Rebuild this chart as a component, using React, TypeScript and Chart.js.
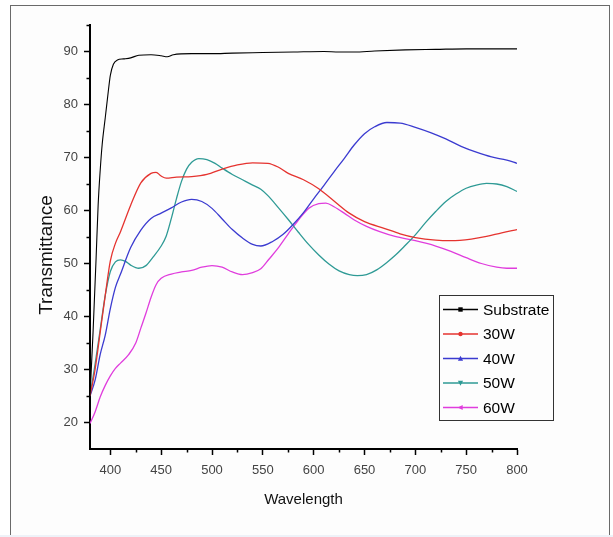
import React, { useEffect, useRef } from 'react';
import { Chart, registerables } from 'chart.js';

Chart.register(...registerables);

const FONT = "'Liberation Sans', Arial, Helvetica, sans-serif";

// Axis ticks
const xTickValues = [400, 450, 500, 550, 600, 650, 700, 750, 800];
const xMinorTicks = [425, 475, 525, 575, 625, 675, 725, 775];
const yTickValues = [20, 30, 40, 50, 60, 70, 80, 90];
const yMinorTicks = [25, 35, 45, 55, 65, 75, 85, 95];

// Series labels / colours
const seriesLabels = ['Substrate', '30W', '40W', '50W', '60W'];
const seriesColors = ['#000000', '#e5332f', '#3b3bd0', '#2e9a95', '#e03ddd'];

// Substrate
const substrateWl = [380, 383, 386, 388, 390, 392, 395, 398, 400, 403, 407, 413, 420, 428, 440, 450, 456, 462, 480, 500, 520, 550, 580, 610, 625, 640, 660, 690, 720, 750, 780, 800];
const substrateT = [25, 37, 51, 61, 67.5, 72.5, 77.5, 82.5, 85.5, 87.6, 88.4, 88.6, 88.8, 89.3, 89.4, 89.2, 89.0, 89.4, 89.6, 89.6, 89.7, 89.8, 89.9, 90.0, 89.9, 89.9, 90.1, 90.3, 90.4, 90.5, 90.5, 90.5];

// 30W
const w30Wl = [380, 385, 390, 395, 400, 405, 410, 420, 430, 440, 445, 450, 455, 465, 480, 495, 510, 525, 540, 555, 565, 575, 590, 605, 620, 635, 650, 670, 685, 700, 720, 735, 755, 770, 785, 800];
const w30T = [25, 30, 37, 44, 50.5, 53.8, 56, 61, 65.2, 67, 67.2, 66.5, 66.1, 66.3, 66.4, 66.8, 67.8, 68.6, 69, 68.9, 68.2, 67, 65.8, 64.1, 61.8, 59.5, 57.9, 56.6, 55.6, 54.9, 54.4, 54.3, 54.6, 55.1, 55.8, 56.4];

// 40W
const w40Wl = [380, 385, 390, 395, 400, 405, 410, 420, 430, 440, 450, 460, 470, 480, 490, 500, 510, 520, 530, 540, 548, 560, 570, 580, 590, 600, 610, 620, 630, 640, 650, 660, 672, 685, 700, 715, 730, 745, 760, 775, 790, 800];
const w40T = [25, 28, 32.8, 36.5, 41.5, 45.5, 48, 53, 56.3, 58.5, 59.5, 60.5, 61.6, 62.1, 61.7, 60.4, 58.4, 56.4, 54.8, 53.6, 53.3, 54.2, 55.5, 57.4, 59.6, 62.2, 64.7, 67.3, 69.8, 72.4, 74.5, 75.8, 76.6, 76.5, 75.7, 74.7, 73.5, 72.1, 71, 70.1, 69.5, 68.9];

// 50W
const w50Wl = [380, 385, 390, 395, 400, 405, 410, 415, 420, 428, 435, 442, 450, 455, 460, 465, 470, 475, 480, 487, 495, 503, 510, 520, 530, 540, 548, 555, 565, 575, 585, 595, 605, 615, 625, 635, 643, 652, 662, 672, 680, 690, 700, 710, 720, 730, 740, 750, 760, 770, 780, 790, 800];
const w50T = [25, 31, 37.5, 44, 48.5, 50.3, 50.7, 50.4, 49.7, 49.1, 49.6, 51.2, 53.3, 55.2, 58.5, 62.2, 65.5, 67.8, 69.1, 69.8, 69.6, 68.9, 68, 66.8, 65.8, 64.8, 64, 62.8, 60.6, 58.3, 55.9, 53.6, 51.6, 49.9, 48.6, 47.9, 47.7, 47.9, 48.8, 50.2, 51.5, 53.4, 55.4, 57.7, 59.8, 61.7, 63.1, 64.2, 64.8, 65.1, 65, 64.5, 63.6];

// 60W
const w60Wl = [380, 385, 390, 395, 400, 405, 410, 418, 425, 430, 435, 440, 445, 450, 460, 470, 480, 490, 500, 510, 520, 530, 540, 548, 556, 565, 575, 585, 595, 605, 612, 620, 630, 640, 652, 665, 680, 700, 720, 735, 750, 765, 780, 790, 800];
const w60T = [19.8, 22, 24.8, 27, 28.8, 30.2, 31.2, 32.8, 35, 37.8, 40.6, 43.6, 46, 47.2, 48, 48.4, 48.7, 49.3, 49.6, 49.3, 48.4, 47.9, 48.3, 49, 50.8, 52.9, 55.6, 58.2, 60.4, 61.3, 61.4, 60.7, 59.5, 58.2, 57, 56, 55.1, 54.3, 53.3, 52.3, 51.1, 50, 49.3, 49.1, 49.1];

const seriesWl = [substrateWl, w30Wl, w40Wl, w50Wl, w60Wl];
const seriesT = [substrateT, w30T, w40T, w50T, w60T];
const markerShapes = ['square', 'circle', 'triUp', 'triDown', 'triLeft'];

function drawMarker(ctx: CanvasRenderingContext2D, shape: string, x: number, y: number, color: string) {
  ctx.save();
  ctx.fillStyle = color;
  ctx.beginPath();
  const s = 2.2;
  if (shape === 'square') {
    ctx.rect(x - s, y - s, 2 * s, 2 * s);
  } else if (shape === 'circle') {
    ctx.arc(x, y, s, 0, Math.PI * 2);
  } else if (shape === 'triUp') {
    ctx.moveTo(x, y - s - 0.6);
    ctx.lineTo(x + s + 0.4, y + s);
    ctx.lineTo(x - s - 0.4, y + s);
  } else if (shape === 'triDown') {
    ctx.moveTo(x, y + s + 0.6);
    ctx.lineTo(x + s + 0.4, y - s);
    ctx.lineTo(x - s - 0.4, y - s);
  } else {
    ctx.moveTo(x - s - 0.6, y);
    ctx.lineTo(x + s, y - s - 0.4);
    ctx.lineTo(x + s, y + s + 0.4);
  }
  ctx.closePath();
  ctx.fill();
  ctx.restore();
}

const decorPlugin = {
  id: 'decor',
  afterDraw(chart: any) {
    const ctx: CanvasRenderingContext2D = chart.ctx;
    const xs = chart.scales.x;
    const ys = chart.scales.y;
    const area = chart.chartArea;
    ctx.save();
    // minor ticks
    ctx.strokeStyle = '#000';
    ctx.lineWidth = 1.5;
    ctx.beginPath();
    xMinorTicks.forEach((v) => {
      const px = Math.round(xs.getPixelForValue(v)) + 0.5;
      ctx.moveTo(px, area.bottom);
      ctx.lineTo(px, area.bottom + 3.5);
    });
    yMinorTicks.forEach((v) => {
      const py = Math.round(ys.getPixelForValue(v)) + 0.5;
      ctx.moveTo(area.left, py);
      ctx.lineTo(area.left - 3.5, py);
    });
    ctx.stroke();

    // y title
    ctx.save();
    ctx.translate(47, 255);
    ctx.rotate(-Math.PI / 2);
    ctx.font = `19px ${FONT}`;
    ctx.fillStyle = '#111';
    ctx.textAlign = 'center';
    ctx.textBaseline = 'middle';
    ctx.fillText('Transmittance', 0, 0);
    ctx.restore();

    // legend
    const bx = 439.5, by = 295.5, bw = 114, bh = 125;
    ctx.strokeStyle = '#333';
    ctx.lineWidth = 1;
    ctx.strokeRect(bx, by, bw, bh);
    ctx.font = `15.5px ${FONT}`;
    ctx.textBaseline = 'middle';
    ctx.textAlign = 'left';
    chart.data.datasets.forEach((ds: any, i: number) => {
      const y = 309.5 + i * 24.5;
      ctx.strokeStyle = ds.borderColor;
      ctx.lineWidth = 1.3;
      ctx.beginPath();
      ctx.moveTo(443, y);
      ctx.lineTo(478, y);
      ctx.stroke();
      drawMarker(ctx, markerShapes[i], 460.5, y, ds.borderColor);
      ctx.fillStyle = '#000';
      ctx.fillText(ds.label, 483, y + 1);
    });
    ctx.restore();
  },
};

export default function App() {
  const ref = useRef<HTMLCanvasElement | null>(null);

  useEffect(() => {
    if (!ref.current) return;
    const datasets = seriesLabels.map((label, i) => ({
      label,
      data: seriesWl[i].map((w, j) => ({ x: w, y: seriesT[i][j] })),
      borderColor: seriesColors[i],
      backgroundColor: seriesColors[i],
      borderWidth: i === 0 ? 1.1 : 1.3,
      pointRadius: 0,
      fill: false,
      tension: 0.4,
      cubicInterpolationMode: 'monotone' as const,
    }));

    const chart = new Chart(ref.current, {
      type: 'line',
      data: { datasets },
      plugins: [decorPlugin],
      options: {
        animation: false,
        responsive: false,
        devicePixelRatio: 1,
        layout: { padding: { left: 0, top: 25, right: 96, bottom: 28 } },
        plugins: {
          legend: { display: false },
          tooltip: { enabled: false },
        },
        scales: {
          x: {
            type: 'linear',
            min: 380,
            max: 800,
            afterBuildTicks: (scale: any) => {
              scale.ticks = xTickValues.map((v) => ({ value: v }));
            },
            afterFit: (scale: any) => {
              scale.height = 60;
            },
            grid: {
              display: true,
              drawOnChartArea: false,
              drawTicks: true,
              tickLength: 6,
              tickColor: '#000',
              tickWidth: 1.5,
            },
            border: { display: true, color: '#000', width: 2 },
            ticks: {
              color: '#444',
              font: { family: FONT, size: 13 },
              padding: 8,
              maxRotation: 0,
              autoSkip: false,
            },
            title: {
              display: true,
              text: 'Wavelength',
              color: '#111',
              font: { family: FONT, size: 15 },
              padding: { top: 0, bottom: 0 },
            },
          },
          y: {
            type: 'linear',
            min: 15,
            max: 95,
            afterBuildTicks: (scale: any) => {
              scale.ticks = yTickValues.map((v) => ({ value: v }));
            },
            afterFit: (scale: any) => {
              scale.width = 90;
            },
            grid: {
              display: true,
              drawOnChartArea: false,
              drawTicks: true,
              tickLength: 6,
              tickColor: '#000',
              tickWidth: 1.5,
            },
            border: { display: true, color: '#000', width: 2 },
            ticks: {
              color: '#444',
              font: { family: FONT, size: 13 },
              padding: 6,
              autoSkip: false,
            },
            title: { display: false },
          },
        },
      },
    });
    return () => chart.destroy();
  }, []);

  return (
    <div
      style={{
        position: 'absolute',
        left: 0,
        top: 0,
        width: 613,
        height: 537,
        background: '#ffffff',
        overflow: 'hidden',
      }}
    >
      <div
        style={{
          position: 'absolute',
          left: 10,
          top: 5,
          width: 600,
          height: 560,
          border: '1px solid #6a6a6a',
          background: '#fdfdfd',
          boxSizing: 'border-box',
        }}
      />
      <div
        style={{
          position: 'absolute',
          left: 0,
          top: 535,
          width: 613,
          height: 2,
          background: '#eef2f8',
        }}
      />
      <canvas
        ref={ref}
        width={613}
        height={537}
        style={{ position: 'absolute', left: 0, top: 0, width: 613, height: 537 }}
      />
    </div>
  );
}
